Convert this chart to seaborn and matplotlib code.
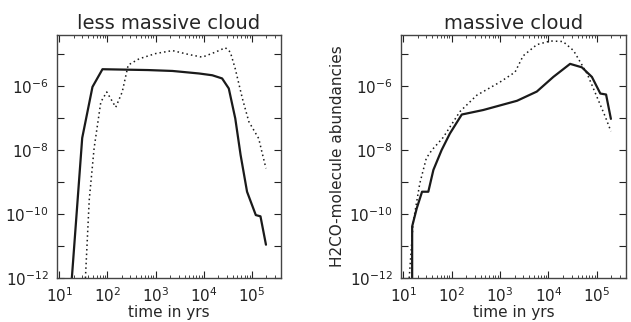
import numpy as np
import pandas as pd
import seaborn as sns
import matplotlib.pyplot as plt
from matplotlib.ticker import LogLocator, FuncFormatter, NullFormatter

# values (time in yrs, abundance)
less_solid_t = [18.3, 30, 49, 79, 700, 2240, 8000, 1.5e4, 2.4e4, 3.3e4, 4.5e4, 5.8e4, 7.9e4, 1.2e5, 1.5e5, 1.95e5]
less_solid_y = [1e-12, 2.4e-8, 9.5e-7, 3.4e-6, 3.2e-6, 3.0e-6, 2.5e-6, 2.2e-6, 1.75e-6, 8.5e-7, 9.8e-8, 7.1e-9, 5.0e-10, 9.3e-11, 8.5e-11, 1.1e-11]

less_dot_t = [35, 42, 53, 73, 97, 149, 203, 270, 455, 1000, 2240, 4900, 9300, 1.75e4, 2.8e4, 3.55e4, 4.5e4, 6.3e4, 8.6e4, 1.38e5, 1.6e5, 1.95e5]
less_dot_y = [1e-12, 2.8e-10, 1.15e-8, 3.2e-7, 6.6e-7, 2.2e-7, 6.6e-7, 4.6e-6, 7.2e-6, 1.05e-5, 1.3e-5, 9.8e-6, 8.1e-6, 1.17e-5, 1.6e-5, 1.17e-5, 3.5e-6, 4.2e-7, 7.8e-8, 2.3e-8, 9.0e-9, 2.7e-9]

mass_solid_t = [15.3, 15.3, 19, 24.5, 33, 42, 62, 92, 162, 450, 2240, 5750, 1.26e4, 2.8e4, 4.9e4, 7.9e4, 1.18e5, 1.55e5, 1.95e5]
mass_solid_y = [1e-12, 4.1e-11, 1.5e-10, 5.0e-10, 5.0e-10, 2.4e-9, 1.0e-8, 3.3e-8, 1.3e-7, 1.8e-7, 3.5e-7, 6.8e-7, 1.95e-6, 5.0e-6, 3.9e-6, 1.95e-6, 5.9e-7, 5.5e-7, 9.5e-8]

mass_dot_t = [13.3, 16, 22, 30, 39, 67, 148, 330, 1000, 2040, 3000, 5750, 1.1e4, 2.0e4, 3.3e4, 6.3e4, 1.0e5, 1.48e5, 1.95e5]
mass_dot_y = [1e-12, 5.2e-11, 9.1e-10, 5.6e-9, 1.0e-8, 2.5e-8, 1.6e-7, 5.2e-7, 1.35e-6, 2.75e-6, 8.9e-6, 2.0e-5, 2.6e-5, 2.5e-5, 1.3e-5, 2.45e-6, 4.7e-7, 1.15e-7, 3.9e-8]

panels = [
    ("less massive cloud", less_solid_t, less_solid_y, less_dot_t, less_dot_y),
    ("massive cloud", mass_solid_t, mass_solid_y, mass_dot_t, mass_dot_y),
]

sns.set_style("ticks")
plt.rcParams['font.family'] = ['DejaVu Sans']

fig = plt.figure(figsize=(6.31, 3.22), dpi=100)
W, H = 631, 322
boxes = [(57, 35, 281, 278), (401, 35, 626, 278)]


def ylab(v, pos):
    e = int(round(np.log10(v)))
    if e % 2:
        return ""
    return r"$10^{%d}$" % e


for i, (title, st, sy, dt, dy) in enumerate(panels):
    x0, y0, x1, y1 = boxes[i]
    ax = fig.add_axes([x0 / W, 1 - y1 / H, (x1 - x0) / W, (y1 - y0) / H])
    solid = pd.DataFrame({"t": st, "y": sy})
    dotted = pd.DataFrame({"t": dt, "y": dy})
    # estimator=None so repeated t values (vertical steps) are kept as drawn
    sns.lineplot(data=solid, x="t", y="y", ax=ax, color="#1a1a1a", lw=1.6,
                 sort=False, estimator=None)
    sns.lineplot(data=dotted, x="t", y="y", ax=ax, color="#1a1a1a", lw=1.1,
                 linestyle=(0, (1, 2)), sort=False, estimator=None)
    ax.set_xscale("log")
    ax.set_yscale("log")
    ax.set_xlim(9, 4e5)
    ax.set_ylim(1e-12, 4e-5)
    ax.xaxis.set_major_locator(LogLocator(base=10, numticks=10))
    ax.xaxis.set_minor_locator(LogLocator(base=10, subs=np.arange(2, 10), numticks=20))
    ax.xaxis.set_minor_formatter(NullFormatter())
    ax.yaxis.set_major_locator(LogLocator(base=10, numticks=20))
    ax.yaxis.set_major_formatter(FuncFormatter(ylab))
    ax.yaxis.set_minor_locator(LogLocator(base=10, subs=[], numticks=20))
    ax.tick_params(which="both", direction="in", top=True, right=True, labelsize=11, colors="#222222")
    ax.tick_params(which="major", length=5, width=0.8)
    ax.tick_params(which="minor", length=2.5, width=0.6)
    ax.tick_params(axis="x", which="major", pad=6)
    ax.tick_params(axis="y", which="major", pad=6)
    for s in ax.spines.values():
        s.set_linewidth(1.0)
        s.set_color("#444444")
    ax.set_title(title, fontsize=14, pad=4)
    ax.set_xlabel("time in yrs", fontsize=11, labelpad=0)
    if i == 1:
        ax.set_ylabel("H2CO-molecule abundancies", fontsize=11, labelpad=3)
    else:
        ax.set_ylabel("")

fig.savefig("out.png", dpi=100)
